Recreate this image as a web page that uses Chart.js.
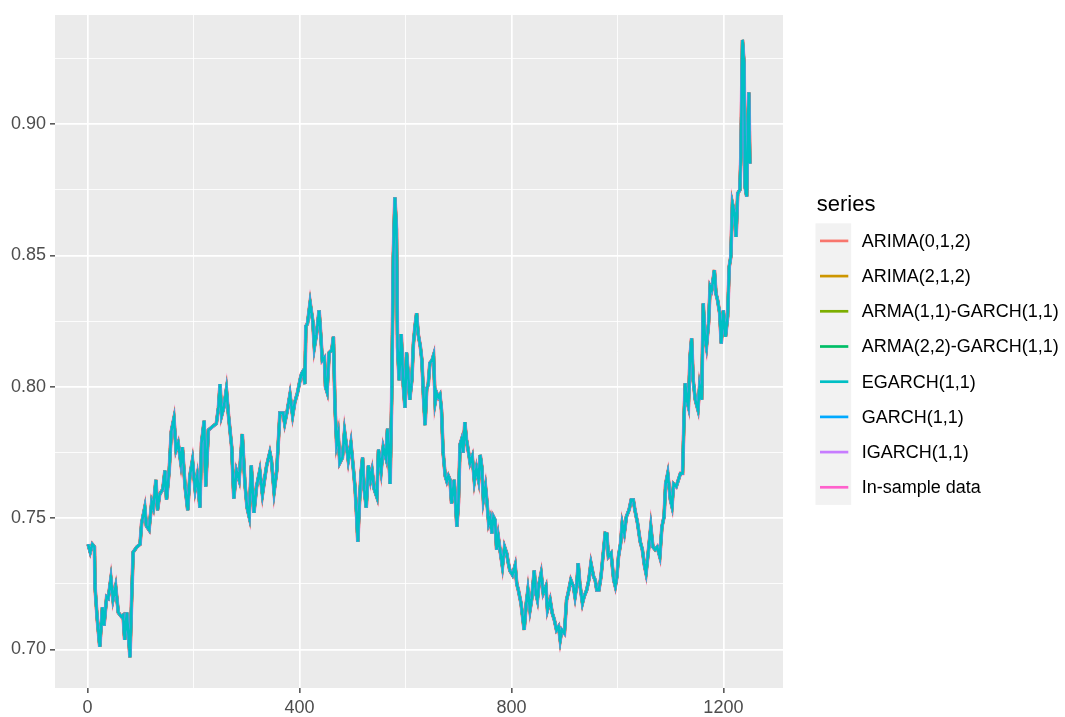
<!DOCTYPE html>
<html>
<head>
<meta charset="utf-8">
<script src="https://cdn.jsdelivr.net/npm/chart.js@4.4.1/dist/chart.umd.min.js"></script>
<style>
  html, body { margin: 0; padding: 0; background: #ffffff; }
  #wrap { width: 1065px; height: 717px; }
</style>
</head>
<body>
<div id="wrap"><canvas id="chart" width="1065" height="717"></canvas></div>
<script>
// Trading-day index of each reading
const day = [
  1, 5, 9, 13, 14, 18, 23, 28, 31, 36, 39, 44, 48, 53, 58, 64, 67, 70, 74, 77,
  80, 83, 86, 93, 99, 102, 108, 111, 116, 121, 124, 129, 132, 136, 142, 146, 149, 154, 158, 163,
  167, 171, 176, 179, 184, 189, 193, 198, 203, 207, 212, 215, 220, 223, 228, 237, 243, 247, 250, 253,
  257, 262, 266, 272, 276, 281, 286, 292, 297, 301, 305, 309, 314, 319, 325, 330, 335, 338, 344, 347,
  352, 357, 363, 369, 372, 377, 382, 387, 391, 396, 401, 404, 407, 410, 412, 415, 420, 425, 428, 432,
  437, 440, 443, 447, 449, 452, 456, 461, 464, 467, 470, 473, 476, 481, 485, 489, 492, 497, 502, 505,
  508, 510, 513, 516, 519, 522, 526, 530, 534, 537, 541, 546, 549, 554, 558, 563, 566, 571, 574, 577,
  580, 583, 585, 588, 592, 596, 599, 602, 605, 608, 612, 615, 618, 621, 624, 628, 631, 634, 637, 640,
  643, 646, 650, 653, 656, 659, 662, 665, 668, 671, 675, 678, 681, 684, 687, 692, 697, 700, 703, 706,
  709, 712, 715, 719, 722, 726, 730, 734, 738, 741, 744, 747, 751, 754, 757, 760, 763, 766, 769, 772,
  775, 779, 783, 787, 791, 794, 797, 802, 807, 810, 813, 818, 821, 824, 828, 831, 835, 838, 843, 846,
  849, 852, 856, 860, 865, 868, 873, 877, 881, 885, 889, 892, 895, 900, 904, 907, 912, 917, 920, 923,
  926, 929, 934, 937, 942, 946, 950, 955, 958, 961, 965, 969, 972, 977, 980, 983, 988, 993, 996, 999,
  1002, 1006, 1009, 1013, 1017, 1022, 1026, 1030, 1033, 1038, 1043, 1047, 1051, 1054, 1058, 1063, 1067, 1071, 1075, 1080,
  1084, 1088, 1091, 1095, 1100, 1103, 1106, 1111, 1115, 1119, 1123, 1126, 1128, 1131, 1134, 1137, 1140, 1143, 1147, 1152,
  1155, 1159, 1162, 1165, 1168, 1172, 1175, 1178, 1183, 1186, 1189, 1193, 1196, 1200, 1204, 1208, 1211, 1214, 1217, 1221,
  1224, 1227, 1231, 1233, 1236, 1239, 1241, 1244, 1246, 1248, 1250
];

// Closing level on each of those days
const level = [
  0.740, 0.737, 0.740, 0.739, 0.724, 0.712, 0.701, 0.716, 0.709, 0.720, 0.7195, 0.727, 0.719, 0.724, 0.714, 0.7125, 0.713, 0.7036, 0.714, 0.706,
  0.697, 0.718, 0.737, 0.739, 0.740, 0.748, 0.754, 0.747, 0.7455, 0.756, 0.754, 0.7645, 0.753, 0.759, 0.761, 0.768, 0.757, 0.768, 0.783, 0.788,
  0.776, 0.7785, 0.771, 0.777, 0.762, 0.753, 0.766, 0.772, 0.761, 0.766, 0.754, 0.7785, 0.787, 0.762, 0.7835, 0.785, 0.786, 0.792, 0.801, 0.789,
  0.792, 0.799, 0.789, 0.777, 0.7575, 0.768, 0.7645, 0.782, 0.763, 0.754, 0.7505, 0.770, 0.752, 0.762, 0.768, 0.759, 0.766, 0.770, 0.775, 0.772,
  0.760, 0.768, 0.790, 0.790, 0.786, 0.791, 0.797, 0.789, 0.794, 0.7975, 0.8026, 0.805, 0.806, 0.801, 0.823, 0.824, 0.832, 0.825, 0.815, 0.820,
  0.829, 0.820, 0.810, 0.811, 0.800, 0.798, 0.813, 0.814, 0.819, 0.792, 0.7785, 0.782, 0.771, 0.773, 0.783, 0.777, 0.772, 0.7785, 0.768, 0.761,
  0.750, 0.741, 0.755, 0.767, 0.773, 0.761, 0.754, 0.770, 0.7645, 0.768, 0.761, 0.758, 0.776, 0.768, 0.777, 0.773, 0.784, 0.763, 0.796, 0.8495,
  0.872, 0.860, 0.815, 0.8025, 0.820, 0.800, 0.792, 0.813, 0.805, 0.795, 0.8025, 0.8165, 0.823, 0.828, 0.820, 0.8153, 0.810, 0.796, 0.7854, 0.799,
  0.801, 0.809, 0.810, 0.812, 0.794, 0.7975, 0.796, 0.797, 0.791, 0.775, 0.766, 0.764, 0.766, 0.7645, 0.7556, 0.7645, 0.7467, 0.756, 0.778, 0.780,
  0.775, 0.7865, 0.780, 0.775, 0.771, 0.7734, 0.764, 0.769, 0.7645, 0.774, 0.7696, 0.757, 0.762, 0.7556, 0.748, 0.750, 0.7442, 0.7505, 0.7493, 0.738,
  0.743, 0.737, 0.7315, 0.739, 0.7366, 0.733, 0.730, 0.7283, 0.732, 0.725, 0.7226, 0.7176, 0.7125, 0.7074, 0.7176, 0.7226, 0.715, 0.7188, 0.730, 0.7214,
  0.7188, 0.725, 0.729, 0.7214, 0.724, 0.715, 0.7188, 0.7138, 0.7112, 0.7074, 0.7087, 0.7036, 0.7074, 0.7061, 0.7188, 0.7214, 0.7264, 0.7239, 0.720, 0.724,
  0.7328, 0.725, 0.7176, 0.720, 0.7226, 0.7264, 0.7328, 0.7277, 0.7264, 0.7226, 0.7226, 0.7277, 0.734, 0.7442, 0.744, 0.7353, 0.7366, 0.7264, 0.724, 0.7277,
  0.7353, 0.7404, 0.748, 0.7442, 0.7506, 0.7531, 0.7569, 0.7569, 0.7531, 0.748, 0.741, 0.738, 0.732, 0.729, 0.7366, 0.7467, 0.739, 0.738, 0.739, 0.7353,
  0.7467, 0.7505, 0.763, 0.767, 0.757, 0.7544, 0.763, 0.762, 0.7645, 0.767, 0.767, 0.790, 0.8013, 0.795, 0.7924, 0.8114, 0.8184, 0.8025, 0.795, 0.7912,
  0.800, 0.795, 0.8317, 0.819, 0.8152, 0.8241, 0.8381, 0.8368, 0.8444, 0.8355, 0.833, 0.828, 0.8165, 0.829, 0.819, 0.8267, 0.8457, 0.8495, 0.8698, 0.866,
  0.857, 0.8736, 0.8749, 0.8876, 0.932, 0.923, 0.876, 0.8724, 0.8977, 0.912, 0.885
];

// Series shown in the key, in key order
const seriesNames = [
  'ARIMA(0,1,2)', 'ARIMA(2,1,2)', 'ARMA(1,1)-GARCH(1,1)', 'ARMA(2,2)-GARCH(1,1)',
  'EGARCH(1,1)', 'GARCH(1,1)', 'IGARCH(1,1)', 'In-sample data'
];
const seriesColors = [
  '#F8766D', '#CD9600', '#7CAE00', '#00BE67', '#00BFC4', '#00A9FF', '#C77CFF', '#FF61CC'
];

// Axis breaks
const yMajor = [0.70, 0.75, 0.80, 0.85, 0.90];
const yMinor = [0.725, 0.775, 0.825, 0.875, 0.925];
const xMajor = [0, 400, 800, 1200];
const xMinor = [200, 600, 1000];

const FONT = '"Liberation Sans", Arial, Helvetica, sans-serif';

// The fitted paths sit on top of the observations at this scale; stacking
// order and stroke width leave a thin fringe of the underlying colours.
const drawOrder = [5, 6, 4, 3, 0, 2, 1, 7];
const strokeWidth = [3.0, 3.3, 2.9, 2.9, 2.6, 2.9, 2.9, 3.7];

const points = day.map((d, i) => ({ x: d, y: level[i] }));

const datasets = seriesNames.map((name, i) => ({
  label: name,
  data: points,
  borderColor: seriesColors[i],
  backgroundColor: seriesColors[i],
  borderWidth: strokeWidth[i],
  pointRadius: 0,
  tension: 0,
  fill: false,
  order: drawOrder[i],
  borderJoinStyle: 'miter',
  borderCapStyle: 'butt'
}));

const isIn = (list, v) => list.some(m => Math.abs(m - v) < 1e-9);

// Grey plotting panel behind the grid
const panelBackground = {
  id: 'panelBackground',
  beforeDraw(chart) {
    const { ctx, chartArea: a } = chart;
    ctx.save();
    ctx.fillStyle = '#EBEBEB';
    ctx.fillRect(a.left, a.top, a.right - a.left, a.bottom - a.top);
    ctx.restore();
  }
};

// Key on the right: title, grey key cells with a line sample, and labels
const seriesKey = {
  id: 'seriesKey',
  afterDraw(chart) {
    const { ctx, chartArea: a } = chart;
    const sets = chart.data.datasets;
    const cell = 35.2;
    const cellW = 35.7;
    const left = a.right + 32.5;
    const top = (a.top + a.bottom) / 2 - 128.2;
    ctx.save();
    ctx.fillStyle = '#000000';
    ctx.font = '22px ' + FONT;
    ctx.textAlign = 'left';
    ctx.textBaseline = 'alphabetic';
    ctx.fillText('series', left + 1.2, top - 12.8);
    ctx.fillStyle = '#F2F2F2';
    ctx.fillRect(left, top, cellW, cell * sets.length);
    ctx.font = '18px ' + FONT;
    ctx.textBaseline = 'middle';
    sets.forEach((ds, i) => {
      const cy = top + i * cell + cell / 2;
      ctx.strokeStyle = ds.borderColor;
      ctx.lineWidth = 2.7;
      ctx.lineCap = 'butt';
      ctx.beginPath();
      ctx.moveTo(left + 4.5, cy);
      ctx.lineTo(left + 32.8, cy);
      ctx.stroke();
      ctx.fillStyle = '#000000';
      ctx.fillText(ds.label, left + 46.2, cy + 1);
    });
    ctx.restore();
  }
};

new Chart(document.getElementById('chart'), {
  type: 'line',
  data: { datasets },
  options: {
    responsive: false,
    devicePixelRatio: 1,
    animation: false,
    parsing: true,
    layout: { padding: { left: 0, top: 15, right: 282, bottom: 0 } },
    plugins: {
      legend: { display: false },
      tooltip: { enabled: false },
      title: { display: false }
    },
    scales: {
      x: {
        type: 'linear',
        min: -61.5,
        max: 1312.5,
        afterBuildTicks: s => {
          s.ticks = [...xMajor, ...xMinor].sort((p, q) => p - q).map(v => ({ value: v }));
        },
        afterFit: s => { s.height = 29; },
        border: { display: false },
        grid: {
          color: '#FFFFFF',
          lineWidth: c => isIn(xMajor, c.tick.value) ? 1.7 : 0.85,
          drawTicks: true,
          tickLength: 5,
          tickWidth: 1.3,
          tickColor: c => isIn(xMajor, c.tick.value) ? '#333333' : 'rgba(0,0,0,0)'
        },
        ticks: {
          autoSkip: false,
          maxRotation: 0,
          padding: 4,
          color: '#4D4D4D',
          font: { size: 18, family: FONT },
          callback: v => isIn(xMajor, v) ? String(v) : ''
        }
      },
      y: {
        type: 'linear',
        min: 0.6853,
        max: 0.9415,
        afterBuildTicks: s => {
          s.ticks = [...yMajor, ...yMinor].sort((p, q) => p - q).map(v => ({ value: v }));
        },
        afterFit: s => { s.width = 55; },
        border: { display: false },
        grid: {
          color: '#FFFFFF',
          lineWidth: c => isIn(yMajor, c.tick.value) ? 1.7 : 0.85,
          drawTicks: true,
          tickLength: 5,
          tickWidth: 1.3,
          tickColor: c => isIn(yMajor, c.tick.value) ? '#333333' : 'rgba(0,0,0,0)'
        },
        ticks: {
          autoSkip: false,
          padding: 4,
          color: '#4D4D4D',
          font: { size: 18, family: FONT },
          callback: v => isIn(yMajor, v) ? v.toFixed(2) : ''
        }
      }
    }
  },
  plugins: [panelBackground, seriesKey]
});
</script>
</body>
</html>
